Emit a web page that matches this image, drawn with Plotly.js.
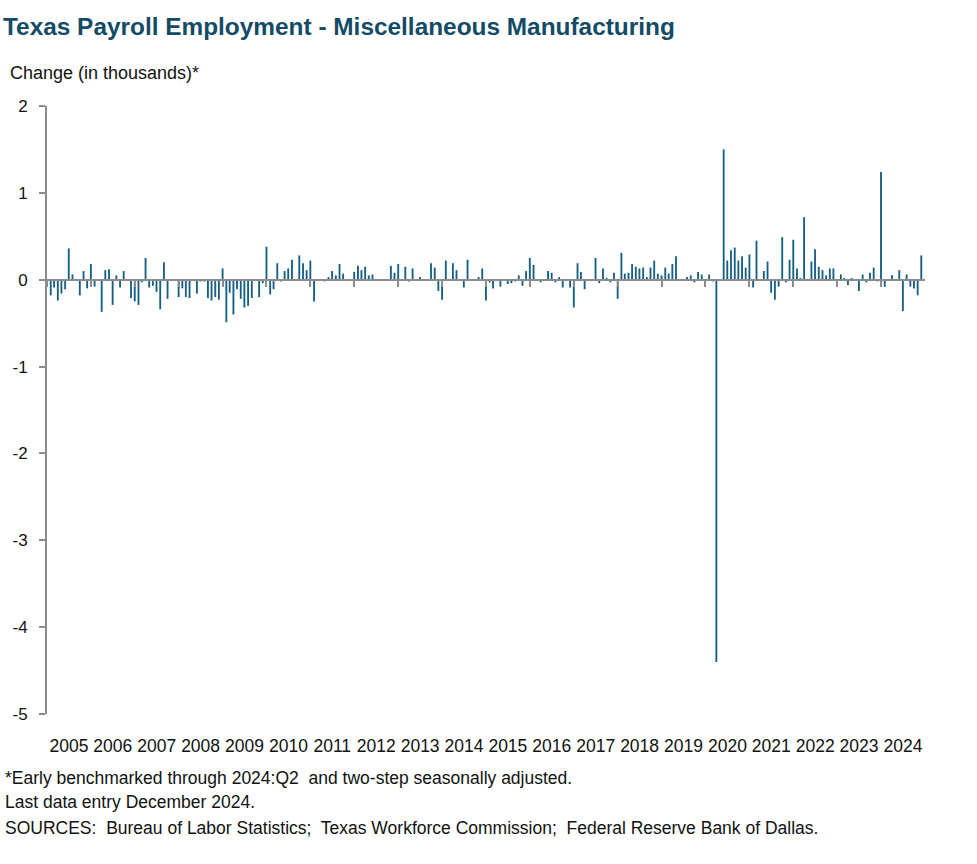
<!DOCTYPE html>
<html>
<head>
<meta charset="utf-8">
<script src="https://cdn.plot.ly/plotly-3.0.1.min.js"></script>
<style>
  html, body { margin: 0; padding: 0; background: #ffffff; }
  #chart { width: 977px; height: 864px; }
</style>
</head>
<body>
<div id="chart"></div>
<script>
// Monthly change in Texas miscellaneous manufacturing employment (thousands)
// 2005 series begins in February; other years January..December
const v2005 = [-0.18, -0.09, -0.24, -0.16, -0.11, 0.36, 0.06, 0.00, -0.18, 0.10, -0.10];
const v2006 = [0.18, -0.08, 0.00, -0.37, 0.11, 0.12, -0.29, 0.05, -0.09, 0.10, 0.00, -0.21];
const v2007 = [-0.25, -0.29, -0.03, 0.25, -0.09, -0.07, -0.14, -0.34, 0.20, -0.22, 0.00, 0.00];
const v2008 = [-0.20, -0.10, -0.20, -0.21, 0.00, -0.16, -0.02, -0.02, -0.21, -0.24, -0.20, -0.23];
const v2009 = [0.13, -0.49, -0.15, -0.40, -0.11, -0.22, -0.32, -0.30, -0.21, 0.00, -0.20, -0.04];
const v2010 = [0.38, -0.17, -0.11, 0.19, -0.02, 0.10, 0.13, 0.23, 0.00, 0.28, 0.19, 0.11];
const v2011 = [0.22, -0.25, 0.00, 0.00, -0.02, 0.03, 0.10, 0.05, 0.18, 0.07, 0.00, 0.00];
const v2012 = [0.09, 0.16, 0.11, 0.15, 0.05, 0.06, 0.00, 0.00, 0.00, 0.00, 0.16, 0.08];
const v2013 = [0.18, 0.00, 0.15, -0.02, 0.13, 0.00, 0.03, 0.00, 0.00, 0.19, 0.14, -0.13];
const v2014 = [-0.23, 0.22, 0.00, 0.19, 0.11, 0.00, -0.09, 0.23, 0.00, 0.00, 0.03, 0.13];
const v2015 = [-0.24, -0.03, -0.10, 0.00, -0.08, 0.00, -0.05, -0.04, -0.02, 0.05, -0.07, 0.10];
const v2016 = [0.25, 0.17, 0.00, -0.03, 0.00, 0.10, 0.08, -0.03, 0.03, -0.09, 0.00, -0.09];
const v2017 = [-0.32, 0.19, 0.09, -0.11, 0.00, 0.00, 0.25, -0.04, 0.13, 0.02, -0.03, 0.08];
const v2018 = [-0.22, 0.31, 0.07, 0.08, 0.18, 0.15, 0.13, 0.14, 0.03, 0.14, 0.22, 0.07];
const v2019 = [0.05, 0.14, 0.07, 0.18, 0.27, 0.00, 0.00, 0.03, 0.05, -0.03, 0.09, 0.06];
const v2020 = [0.00, 0.06, -0.02, -4.40, 0.00, 1.50, 0.22, 0.34, 0.37, 0.22, 0.27, 0.14];
const v2021 = [0.29, -0.09, 0.45, 0.00, 0.10, 0.21, -0.15, -0.23, -0.08, 0.49, -0.03, 0.23];
const v2022 = [0.46, 0.13, 0.02, 0.72, 0.00, 0.21, 0.35, 0.15, 0.11, 0.05, 0.13, 0.13];
const v2023 = [0.00, 0.06, 0.02, -0.06, 0.02, 0.00, -0.13, 0.06, -0.03, 0.08, 0.14, -0.02];
const v2024 = [1.24, -0.08, 0.00, 0.05, 0.00, 0.11, -0.36, 0.06, -0.08, -0.10, -0.18, 0.28];

const years = [2005, 2006, 2007, 2008, 2009, 2010, 2011, 2012, 2013, 2014,
               2015, 2016, 2017, 2018, 2019, 2020, 2021, 2022, 2023, 2024];
const yearValues = [v2005, v2006, v2007, v2008, v2009, v2010, v2011, v2012, v2013, v2014,
                    v2015, v2016, v2017, v2018, v2019, v2020, v2021, v2022, v2023, v2024];
const yTicks = [-5, -4, -3, -2, -1, 0, 1, 2];

// Build monthly date categories from the per-year arrays
const dates = [];
const values = [];
years.forEach((yr, i) => {
  const arr = yearValues[i];
  const startMonth = 12 - arr.length + 1;
  arr.forEach((v, j) => {
    const m = startMonth + j;
    dates.push(yr + '-' + String(m).padStart(2, '0') + '-01');
    values.push(v);
  });
});
const yearTicks = years.map(y => y + '-01-01');
const xStart = years[0] + '-01-01';
const xEnd = (years[years.length - 1] + 1) + '-01-01';

const gridGrey = '#8c8c8c';
const barColor = '#165e83';
const textFont = 'Liberation Sans, Arial, sans-serif';

const traces = [
  {
    type: 'bar',
    x: dates,
    y: values,
    xaxis: 'x',
    yaxis: 'y',
    marker: { color: barColor, line: { width: 0 } },
    hoverinfo: 'x+y',
    showlegend: false
  },
  {
    type: 'scatter',
    mode: 'markers',
    x: [dates[0]],
    y: [0],
    xaxis: 'x2',
    yaxis: 'y',
    marker: { opacity: 0, size: 1 },
    hoverinfo: 'skip',
    showlegend: false
  }
];

const L = 47, R = 925, T = 106, B = 714, W = 977, H = 864;
const px2x = p => (p - L) / (R - L);
const px2y = p => (B - p) / (B - T);

const layout = {
  width: W,
  height: H,
  margin: { l: L, r: W - R, t: T, b: H - B, pad: 0 },
  paper_bgcolor: '#ffffff',
  plot_bgcolor: '#ffffff',
  bargap: 0.45,
  title: {
    text: '<b>Texas Payroll Employment - Miscellaneous Manufacturing</b>',
    font: { family: textFont, size: 24.4, color: '#134b66' },
    xref: 'container', yref: 'container',
    x: 3 / W, xanchor: 'left',
    y: 1 - 26 / H, yanchor: 'middle'
  },
  xaxis: {
    type: 'date',
    range: [xStart, xEnd],
    tick0: xStart,
    dtick: 'M12',
    ticklabelmode: 'period',
    tickformat: '%Y',
    tickangle: 0,
    ticks: '',
    showline: false,
    showgrid: false,
    zeroline: false,
    ticklabelstandoff: 19,
    tickfont: { family: textFont, size: 17.5, color: '#111111' },
    fixedrange: true
  },
  xaxis2: {
    type: 'date',
    overlaying: 'x',
    anchor: 'free',
    position: 5 / 7,
    range: [xStart, xEnd],
    tickvals: yearTicks,
    showticklabels: false,
    ticks: 'outside',
    ticklen: 6,
    tickwidth: 2,
    tickcolor: gridGrey,
    showline: true,
    linecolor: gridGrey,
    linewidth: 2,
    showgrid: false,
    zeroline: false,
    fixedrange: true
  },
  yaxis: {
    range: [-5, 2],
    tickvals: yTicks,
    ticktext: yTicks.map(String),
    ticks: 'outside',
    ticklen: 6,
    tickwidth: 2,
    tickcolor: gridGrey,
    showline: true,
    linecolor: gridGrey,
    linewidth: 2,
    showgrid: false,
    zeroline: false,
    ticklabelstandoff: 8,
    tickfont: { family: textFont, size: 17, color: '#111111' },
    fixedrange: true
  },
  annotations: [
    {
      text: 'Change (in thousands)*',
      xref: 'paper', yref: 'paper',
      x: px2x(8), y: px2y(73),
      xanchor: 'left', yanchor: 'middle',
      showarrow: false,
      font: { family: textFont, size: 18, color: '#111111' }
    },
    {
      text: '*Early benchmarked through 2024:Q2\u00a0 and two-step seasonally adjusted.',
      xref: 'paper', yref: 'paper',
      x: px2x(3), y: px2y(778),
      xanchor: 'left', yanchor: 'middle',
      showarrow: false,
      font: { family: textFont, size: 17.5, color: '#111111' }
    },
    {
      text: 'Last data entry December 2024.',
      xref: 'paper', yref: 'paper',
      x: px2x(3), y: px2y(802),
      xanchor: 'left', yanchor: 'middle',
      showarrow: false,
      font: { family: textFont, size: 17.5, color: '#111111' }
    },
    {
      text: 'SOURCES:\u00a0 Bureau of Labor Statistics;\u00a0 Texas Workforce Commission;\u00a0 Federal Reserve Bank of Dallas.',
      xref: 'paper', yref: 'paper',
      x: px2x(3), y: px2y(828),
      xanchor: 'left', yanchor: 'middle',
      showarrow: false,
      font: { family: textFont, size: 17.5, color: '#111111' }
    }
  ]
};

Plotly.newPlot('chart', traces, layout, { displayModeBar: false, staticPlot: true });
</script>
</body>
</html>
